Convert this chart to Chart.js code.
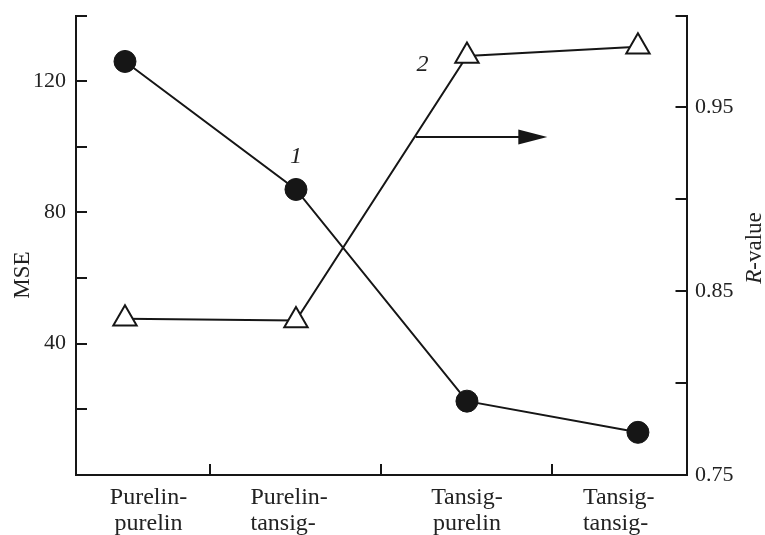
<!DOCTYPE html>
<html>
<head>
<meta charset="utf-8">
<script src="https://cdn.jsdelivr.net/npm/chart.js@4.4.1/dist/chart.umd.min.js"></script>
<style>
  html, body { margin: 0; padding: 0; background: #fff; }
  canvas { display: block; }
</style>
</head>
<body>
<canvas id="chart" width="765" height="535"></canvas>
<script>
// data
const categories = [['Purelin-', 'purelin'], ['Purelin-', 'tansig-'], ['Tansig-', 'purelin'], ['Tansig-', 'tansig-']];
const mseValues = [126, 87, 22.5, 13];
const rValues = [0.835, 0.834, 0.978, 0.983];
const mseTickLabels = [40, 80, 120];
const rTickLabels = [0.75, 0.85, 0.95];
const curveNames = ['1', '2'];

// annotation anchors, in data units (x = category index, y = MSE)
const namePos = [{ x: 1.0, y: 97 }, { x: 1.74, y: 125 }];
const arrowPos = { x1: 1.7, x2: 2.47, y: 103 };

const serif = "'Liberation Serif', 'Times New Roman', serif";
const ink = '#161616';
Chart.defaults.font.family = serif;
Chart.defaults.color = '#222';

const labelNudge = [23.5, -45.5, 0, -55];
const labelAlign = ['center', 'left', 'center', 'left'];

// keep the plot box where the figure has it
const fixBox = w => s => { s.width = w; s.paddingTop = 0; s.paddingBottom = 0; };

const annotate = {
  id: 'annotate',
  afterDraw(chart) {
    const { ctx, scales: { x, y } } = chart;
    ctx.save();
    ctx.fillStyle = '#222';

    // category labels under the axis
    ctx.font = '24px ' + serif;
    ctx.textBaseline = 'alphabetic';
    categories.forEach((lines, i) => {
      const px = x.getPixelForValue(i) + labelNudge[i];
      ctx.textAlign = labelAlign[i];
      lines.forEach((t, j) => ctx.fillText(t, px, 504 + j * 26));
    });

    // curve numbers
    ctx.font = 'italic 24px ' + serif;
    ctx.textAlign = 'center';
    ctx.textBaseline = 'middle';
    curveNames.forEach((t, i) => {
      ctx.fillText(t, x.getPixelForValue(namePos[i].x), y.getPixelForValue(namePos[i].y));
    });

    // arrow pointing to the right-hand axis
    const ax1 = x.getPixelForValue(arrowPos.x1);
    const ax2 = x.getPixelForValue(arrowPos.x2);
    const ay = y.getPixelForValue(arrowPos.y);
    ctx.strokeStyle = ink;
    ctx.fillStyle = ink;
    ctx.lineWidth = 2;
    ctx.beginPath();
    ctx.moveTo(ax1, ay);
    ctx.lineTo(ax2 - 20, ay);
    ctx.stroke();
    ctx.beginPath();
    ctx.moveTo(ax2, ay);
    ctx.lineTo(ax2 - 29, ay - 7.5);
    ctx.lineTo(ax2 - 29, ay + 7.5);
    ctx.closePath();
    ctx.fill();

    // axis titles
    ctx.fillStyle = '#222';
    ctx.font = '23px ' + serif;
    ctx.save();
    ctx.translate(22.5, 275);
    ctx.rotate(-Math.PI / 2);
    ctx.textAlign = 'center';
    ctx.fillText('MSE', 0, 0);
    ctx.restore();

    ctx.save();
    ctx.translate(754.5, 248);
    ctx.rotate(-Math.PI / 2);
    ctx.textAlign = 'left';
    ctx.font = 'italic 23px ' + serif;
    const w1 = ctx.measureText('R').width;
    ctx.font = '23px ' + serif;
    const w2 = ctx.measureText('-value').width;
    const start = -(w1 + w2) / 2;
    ctx.font = 'italic 23px ' + serif;
    ctx.fillText('R', start, 0);
    ctx.font = '23px ' + serif;
    ctx.fillText('-value', start + w1, 0);
    ctx.restore();

    ctx.restore();
  }
};

const ctx = document.getElementById('chart').getContext('2d');
new Chart(ctx, {
  type: 'line',
  data: {
    datasets: [
      {
        label: 'MSE',
        yAxisID: 'y',
        data: mseValues.map((v, i) => ({ x: i, y: v })),
        borderColor: ink,
        borderWidth: 2,
        pointStyle: 'circle',
        pointRadius: 11,
        pointBackgroundColor: ink,
        pointBorderColor: ink,
        pointBorderWidth: 1,
        tension: 0
      },
      {
        label: 'R-value',
        yAxisID: 'y1',
        data: rValues.map((v, i) => ({ x: i, y: v })),
        borderColor: ink,
        borderWidth: 2,
        pointStyle: 'triangle',
        pointRadius: 13.5,
        pointBackgroundColor: '#fff',
        pointBorderColor: ink,
        pointBorderWidth: 2,
        tension: 0
      }
    ]
  },
  options: {
    responsive: false,
    animation: false,
    devicePixelRatio: 1,
    layout: { padding: { top: 15, left: 0, right: 0, bottom: 0 } },
    plugins: { legend: { display: false }, tooltip: { enabled: false } },
    scales: {
      x: {
        type: 'linear',
        position: 'bottom',
        min: -0.2865,
        max: 3.284,
        afterBuildTicks: s => { s.ticks = [0.5, 1.5, 2.5].map(v => ({ value: v })); },
        afterFit: s => { s.height = 60; s.paddingLeft = 0; s.paddingRight = 0; },
        ticks: { display: false },
        grid: { drawOnChartArea: false, tickLength: -11, color: ink, lineWidth: 2 },
        border: { display: true, color: ink, width: 2 }
      },
      y: {
        type: 'linear',
        position: 'left',
        min: 0,
        max: 140,
        afterFit: fixBox(76),
        ticks: {
          stepSize: 20,
          autoSkip: false,
          padding: 21,
          font: { size: 22 },
          color: '#222',
          callback: v => mseTickLabels.includes(v) ? String(v) : ''
        },
        grid: { drawOnChartArea: false, tickLength: -11, color: ink, lineWidth: 2 },
        border: { display: true, color: ink, width: 2 }
      },
      y1: {
        type: 'linear',
        position: 'right',
        min: 0.75,
        max: 1.0,
        afterFit: fixBox(78.5),
        ticks: {
          stepSize: 0.05,
          autoSkip: false,
          padding: 19.5,
          font: { size: 22 },
          color: '#222',
          callback: v => rTickLabels.some(t => Math.abs(t - v) < 1e-6) ? v.toFixed(2) : ''
        },
        grid: { drawOnChartArea: false, tickLength: -11, color: ink, lineWidth: 2 },
        border: { display: true, color: ink, width: 2 }
      }
    }
  },
  plugins: [annotate]
});
</script>
</body>
</html>
